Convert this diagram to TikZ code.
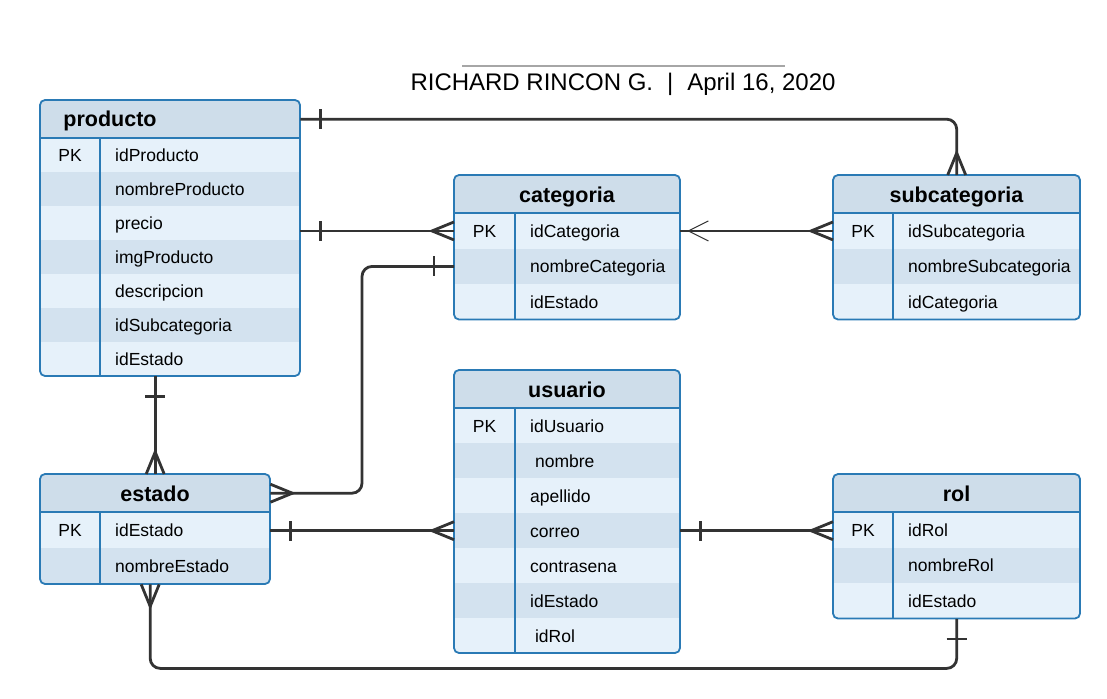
\documentclass[tikz,border=0pt]{standalone}
\usepackage{fontspec}
\setmainfont{Liberation Sans}
\definecolor{edgec}{HTML}{2A7AB5}
\definecolor{headc}{HTML}{CEDDEA}
\definecolor{rowlight}{HTML}{E6F1FA}
\definecolor{rowdark}{HTML}{D3E2EF}
\definecolor{linec}{HTML}{333333}
% #1 name, #2 left, #3 top, #4 width, #5 key column, #6 rows, #7 row height, #8 fields
\newcommand{\entity}[8]{%
  \begin{scope}
    \clip[rounded corners=5pt] (#2,#3) rectangle ++(#4,38+#6*#7);
    \node[ehead, minimum width=#4pt, anchor=north west] (#1) at (#2,#3) {};
    \foreach \pk/\fld [count=\i] in {#8} {
      \pgfmathsetmacro\rowy{#3+38+(\i-1)*#7}
      \ifodd\i\relax\def\rowc{rowlight}\else\def\rowc{rowdark}\fi
      \node[erow, fill=\rowc, minimum width=#4pt, minimum height=#7pt, anchor=north west] (#1-\i) at (#2,\rowy) {};
      \node[etext, anchor=base] (#1-k\i) at (#2+#5/2,\rowy+#7/2+6.5) {\pk};
      \node[etext, anchor=base west] (#1-f\i) at (#2+#5+15,\rowy+#7/2+6.5) {\fld};
    }
  \end{scope}
  \draw[eline] (#2,#3+38) -- ++(#4,0);
  \draw[eline] (#2+#5,#3+38) -- ++(0,#6*#7);
  \draw[eline, rounded corners=5pt] (#2,#3) rectangle ++(#4,38+#6*#7);
}
\begin{document}
\begin{tikzpicture}[x=1pt, y=-1pt,
    ehead/.style={fill=headc, minimum height=38pt, inner sep=0pt},
    erow/.style={inner sep=0pt},
    etext/.style={inner sep=0pt, font=\fontsize{17.5}{20}\selectfont},
    etitle/.style={anchor=base, inner sep=0pt, font=\fontsize{21.5}{24}\selectfont\bfseries},
    eline/.style={draw=edgec, line width=1.8pt},
    rel/.style={draw=linec, line width=2.8pt},
    link/.style={rel, rounded corners=10pt},
    pics/crow/.style={code={\draw[rel] (0,-9) -- (-22,0) -- (0,9);}},
    pics/bar/.style={code={\draw[rel] (-20,-10) -- (-20,10);}},
    pics/fork/.style={code={\draw[draw=linec, line width=1pt] (-28,-10) -- (-8,0) -- (-28,10);}}]
\useasboundingbox (0,0) rectangle (1107,698);

% title
\node[font=\fontsize{24}{28}\selectfont, anchor=base] (title) at (623,91)
  {RICHARD RINCON G.\hspace{14pt}|\hspace{14pt}April 16, 2020};
\draw[gray!70, line width=1.5pt] (462,66) -- (785,66);

% tables
\entity{producto}{40}{100}{260}{60}{7}{34}{PK/idProducto, /nombreProducto, /precio, /imgProducto, /descripcion, /idSubcategoria, /idEstado}
\entity{categoria}{454}{175}{226}{61}{3}{35.5}{PK/idCategoria, /nombreCategoria, /idEstado}
\entity{subcategoria}{833}{175}{247}{60}{3}{35.5}{PK/idSubcategoria, /nombreSubcategoria, /idCategoria}
\entity{usuario}{454}{370}{226}{61}{7}{35}{PK/idUsuario, /\ nombre, /apellido, /correo, /contrasena, /idEstado, /\ idRol}
\entity{estado}{40}{474}{230}{60}{2}{36}{PK/idEstado, /nombreEstado}
\entity{rol}{833}{474}{247}{60}{3}{35.5}{PK/idRol, /nombreRol, /idEstado}

\node[etitle] (producto-t) at (110,127) {producto};
\node[etitle] (categoria-t) at (567,202) {categoria};
\node[etitle] (subcategoria-t) at (956.5,202) {subcategoria};
\node[etitle] (usuario-t) at (567,397) {usuario};
\node[etitle] (estado-t) at (155,501) {estado};
\node[etitle] (rol-t) at (956.5,501) {rol};

% relations
\draw[link] (producto.east) -| (subcategoria.north);
\pic[rotate=180] at (producto.east) {bar};
\pic[rotate=-90] at (subcategoria.north) {crow};

\draw[link] (categoria-1.west -| producto.east) -- (categoria-1.west);
\pic[rotate=180] at (categoria-1.west -| producto.east) {bar};
\pic at (categoria-1.west) {crow};

\draw[link] (categoria-1.east) -- (subcategoria-1.west);
\pic[rotate=180] at (categoria-1.east) {fork};
\pic at (subcategoria-1.west) {crow};

\draw[link] (estado.north |- producto-7.south) -- (estado.north);
\pic[rotate=90] at (estado.north |- producto-7.south) {bar};
\pic[rotate=-90] at (estado.north) {crow};

\draw[link] (categoria-2.west) -- ++(-92,0) |- (estado.east);
\pic at (categoria-2.west) {bar};
\pic[rotate=180] at (estado.east) {crow};

\draw[link] (usuario-4.west -| estado.east) -- (usuario-4.west);
\pic[rotate=180] at (usuario-4.west -| estado.east) {bar};
\pic at (usuario-4.west) {crow};

\draw[link] (usuario-4.east) -- (usuario-4.east -| rol-1.west);
\pic[rotate=180] at (usuario-4.east) {bar};
\pic at (usuario-4.east -| rol-1.west) {crow};

\draw[link] ([xshift=-5pt]estado-2.south) -- ++(0,84) -| (rol-3.south);
\pic[rotate=90] at ([xshift=-5pt]estado-2.south) {crow};
\pic[rotate=90] at (rol-3.south) {bar};
\end{tikzpicture}
\end{document}
